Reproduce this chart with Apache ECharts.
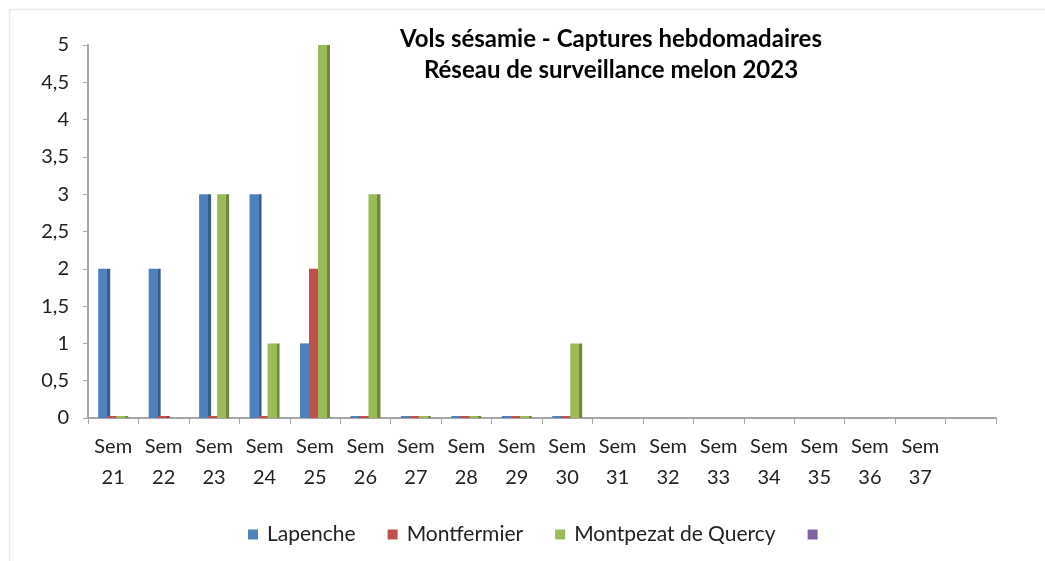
<!DOCTYPE html>
<html>
<head>
<meta charset="utf-8">
<script src="https://cdn.jsdelivr.net/npm/echarts@6/dist/echarts.min.js"></script>
<style>
  html, body { margin: 0; padding: 0; background: #fff; }
  #chart { width: 1045px; height: 561px; }
</style>
</head>
<body>
<div id="chart"></div>
<script>
// semaines (la derniere categorie est vide)
const weeks = ['Sem\n21', 'Sem\n22', 'Sem\n23', 'Sem\n24', 'Sem\n25', 'Sem\n26', 'Sem\n27', 'Sem\n28', 'Sem\n29',
  'Sem\n30', 'Sem\n31', 'Sem\n32', 'Sem\n33', 'Sem\n34', 'Sem\n35', 'Sem\n36', 'Sem\n37', ''];
const lapenche    = [2, 2, 3, 3, 1, 0, 0, 0, 0, 0, null, null, null, null, null, null, null, null];
const montfermier = [0, 0, 0, 0, 2, 0, 0, 0, 0, 0, null, null, null, null, null, null, null, null];
const montpezat   = [0, null, 3, 1, 5, 3, 0, 0, 0, 1, null, null, null, null, null, null, null, null];
const yTicks = [0, 0.5, 1, 1.5, 2, 2.5, 3, 3.5, 4, 4.5, 5];

const font = 'Lato, "Open Sans", sans-serif';
const colors = {
  'Lapenche': ['#4F81BD', '#385D8A'],
  'Montfermier': ['#C0504D', '#8C3836'],
  'Montpezat de Quercy': ['#9BBB59', '#71893F'],
  ' ': ['#8064A2', '#5C4776']
};

// faux relief : face avant + bande sombre a droite
function bar3d(main, dark) {
  return {
    type: 'linear', x: 0, y: 0, x2: 1, y2: 0,
    colorStops: [
      { offset: 0, color: main }, { offset: 0.75, color: main },
      { offset: 0.75, color: dark }, { offset: 1, color: dark }
    ]
  };
}

function serie(name, data) {
  return {
    name: name,
    type: 'bar',
    data: data,
    barWidth: 12,
    barGap: '-25%',
    barMinHeight: 2,
    itemStyle: { color: bar3d(colors[name][0], colors[name][1]) },
    emphasis: { disabled: true }
  };
}

const chart = echarts.init(document.getElementById('chart'));
chart.setOption({
  animation: false,
  backgroundColor: '#fff',
  title: {
    text: 'Vols sésamie - Captures hebdomadaires\nRéseau de surveillance melon 2023',
    left: 606,
    top: 19,
    textAlign: 'center',
    textStyle: { fontFamily: font, fontSize: 24, fontWeight: 'bold', color: '#000', lineHeight: 31 }
  },
  legend: {
    left: 243,
    top: 519,
    icon: 'rect',
    itemWidth: 10,
    itemHeight: 10,
    itemGap: 32,
    data: Object.keys(colors).map(n => ({ name: n, itemStyle: { color: colors[n][0] } })),
    textStyle: { fontFamily: font, fontSize: 21, color: '#222', padding: [0, 0, 0, 4] }
  },
  grid: { left: 88, right: 49, top: 45, bottom: 143 },
  xAxis: {
    type: 'category',
    data: weeks,
    axisLine: { lineStyle: { color: '#A6A6A6', width: 2 } },
    axisTick: { show: true, length: 6, lineStyle: { color: '#A6A6A6' } },
    axisLabel: { interval: 0, margin: 13, fontFamily: font, fontSize: 20, color: '#222', lineHeight: 31 }
  },
  yAxis: {
    type: 'value',
    min: 0,
    max: 5,
    interval: 0.5,
    axisLine: { show: true, lineStyle: { color: '#A6A6A6', width: 2 } },
    axisTick: { show: true, length: 5, lineStyle: { color: '#A6A6A6' } },
    splitLine: { show: false },
    axisLabel: {
      margin: 19,
      fontFamily: font, fontSize: 20, color: '#222',
      formatter: v => yTicks.indexOf(v) >= 0 ? String(v).replace('.', ',') : ''
    }
  },
  graphic: [
    { type: 'line', shape: { x1: 9.5, y1: 9, x2: 9.5, y2: 561 }, style: { stroke: '#EBEBEB', lineWidth: 1.5 } },
    { type: 'line', shape: { x1: 9, y1: 9.5, x2: 1045, y2: 9.5 }, style: { stroke: '#EBEBEB', lineWidth: 1.5 } }
  ],
  series: [
    serie('Lapenche', lapenche),
    serie('Montfermier', montfermier),
    serie('Montpezat de Quercy', montpezat),
    // serie sans nom ni valeurs : seulement la pastille violette de la legende
    { name: ' ', type: 'line', data: [], itemStyle: { color: colors[' '][0] } }
  ]
});
</script>
</body>
</html>
